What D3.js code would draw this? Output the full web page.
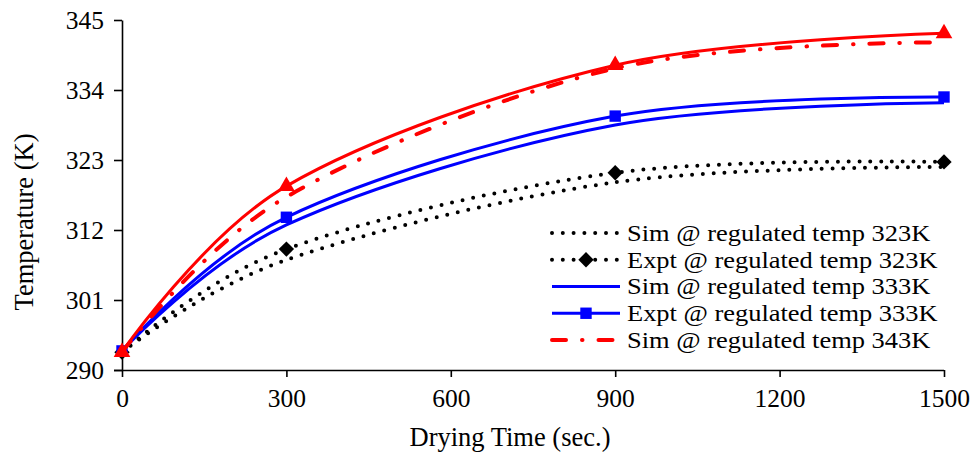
<!DOCTYPE html>
<html>
<head>
<meta charset="utf-8">
<script src="https://cdn.jsdelivr.net/npm/d3@7"></script>
<style>
  html, body { margin: 0; padding: 0; background: #fff; }
  svg { display: block; }
  text { font-family: "Liberation Serif", "Times New Roman", serif; fill: #000; }
</style>
</head>
<body>
<svg id="chart" width="972" height="456"></svg>
<script>
// Drying time (s) at which temperatures were recorded
const dryingTime = [0, 300, 900, 1500];

// Temperature (K) series
const simT323  = [292.8, 307.3, 319.5, 321.9];
const exptT323 = [292.8, 309.0, 321.0, 322.7];
const simT333  = [293.0, 312.8, 328.5, 332.0];
const exptT333 = [293.0, 314.0, 329.9, 332.9];
const simT343  = [292.8, 317.2, 337.4, 341.5];
const exptT343 = [292.8, 318.9, 337.9, 342.9];

const xTicks = [0, 300, 600, 900, 1200, 1500];
const yTicks = [290, 301, 312, 323, 334, 345];

const seriesNames = [
  "Sim @ regulated temp 323K",
  "Expt @ regulated temp 323K",
  "Sim @ regulated temp 333K",
  "Expt @ regulated temp 333K",
  "Sim @ regulated temp 343K",
  "Expt @ regulated temp 343K"
];

const styles = [
  { color: "#000", width: 4, dash: "0 10.8", cap: "round", marker: null },
  { color: "#000", width: 4, dash: "0 10.8", cap: "round", marker: "diamond" },
  { color: "#0000ff", width: 3, dash: null, cap: "butt", marker: null },
  { color: "#0000ff", width: 3, dash: null, cap: "butt", marker: "square" },
  { color: "#ff0000", width: 4, dash: "14 16 0.5 16", cap: "round", marker: null },
  { color: "#ff0000", width: 3, dash: null, cap: "butt", marker: "triangle" }
];
const values = [simT323, exptT323, simT333, exptT333, simT343, exptT343];

const svg = d3.select("#chart");
const plot = { left: 122, right: 944, top: 20, bottom: 370 };

const x = d3.scaleLinear().domain([0, 1500]).range([plot.left, plot.right]);
const y = d3.scaleLinear().domain([290, 345]).range([plot.bottom, plot.top]);

// Axes
const xAxis = svg.append("g")
  .attr("transform", `translate(0,${plot.bottom})`)
  .call(d3.axisBottom(x).tickValues(xTicks).tickFormat(d3.format("d"))
    .tickSize(7).tickSizeOuter(0).tickPadding(12));
const yAxis = svg.append("g")
  .attr("transform", `translate(${plot.left},0)`)
  .call(d3.axisLeft(y).tickValues(yTicks).tickFormat(d3.format("d"))
    .tickSize(8).tickSizeOuter(0).tickPadding(10));

[xAxis, yAxis].forEach(g => {
  g.select(".domain").attr("stroke", "#000").attr("stroke-width", 1.6);
  g.selectAll(".tick line").attr("stroke", "#000").attr("stroke-width", 1.6);
  g.selectAll(".tick text")
    .style("font-family", '"Liberation Serif", "Times New Roman", serif')
    .style("font-size", "25.5px").attr("fill", "#000");
});
xAxis.select(".domain").attr("d", `M${plot.left - 8},0.5H${plot.right}`);
xAxis.selectAll(".tick text").attr("dy", "0.71em");
yAxis.selectAll(".tick text").attr("dy", "0.34em");

// Axis titles
svg.append("text")
  .attr("x", 510).attr("y", 446)
  .attr("text-anchor", "middle").style("font-size", "26.5px")
  .text("Drying Time (sec.)");
svg.append("text")
  .attr("transform", "translate(33,222) rotate(-90)")
  .attr("text-anchor", "middle").style("font-size", "26.5px")
  .text("Temperature (K)");

// Smoothed series lines
const line = d3.line()
  .x((d, i) => x(dryingTime[i]))
  .y(d => y(d))
  .curve(d3.curveCatmullRom.alpha(0));

const markerPath = {
  diamond: d3.symbol().type(d3.symbolDiamond2).size(150)(),
  square: d3.symbol().type(d3.symbolSquare).size(130)(),
  triangle: d3.symbol().type(d3.symbolTriangle).size(120)()
};

const series = svg.append("g").selectAll("g.series")
  .data(values.map((v, i) => ({ v, s: styles[i], name: seriesNames[i] })))
  .join("g").attr("class", "series");

series.append("path")
  .attr("d", d => line(d.v))
  .attr("fill", "none")
  .attr("stroke", d => d.s.color)
  .attr("stroke-width", d => d.s.width)
  .attr("stroke-dasharray", d => d.s.dash)
  .attr("stroke-linecap", d => d.s.cap);

series.filter(d => d.s.marker).selectAll("path.mark")
  .data(d => d.v.map((val, i) => ({ val, i, s: d.s })))
  .join("path").attr("class", "mark")
  .attr("transform", d => `translate(${x(dryingTime[d.i])},${y(d.val)})`)
  .attr("d", d => markerPath[d.s.marker])
  .attr("fill", d => d.s.color);

// Legend (first five entries visible); labels use a horizontally widened face
const legend = svg.append("g");
const legendRows = [0, 1, 2, 3, 4];
const rowY = d3.scaleLinear().domain([0, 4]).range([233, 340]);
legendRows.forEach(i => {
  const s = styles[i];
  const g = legend.append("g").attr("transform", `translate(0,${rowY(i)})`);
  g.append("line")
    .attr("x1", 552).attr("x2", 620).attr("y1", 0).attr("y2", 0)
    .attr("stroke", s.color).attr("stroke-width", s.width)
    .attr("stroke-dasharray", s.dash).attr("stroke-linecap", s.cap);
  if (s.marker) {
    g.append("path").attr("transform", "translate(586,0)")
      .attr("d", markerPath[s.marker]).attr("fill", s.color);
  }
  g.append("text")
    .attr("transform", "translate(627,0) scale(1.15,1)")
    .attr("dy", "0.34em")
    .style("font-size", "23px").text(seriesNames[i]);
});
</script>
</body>
</html>
